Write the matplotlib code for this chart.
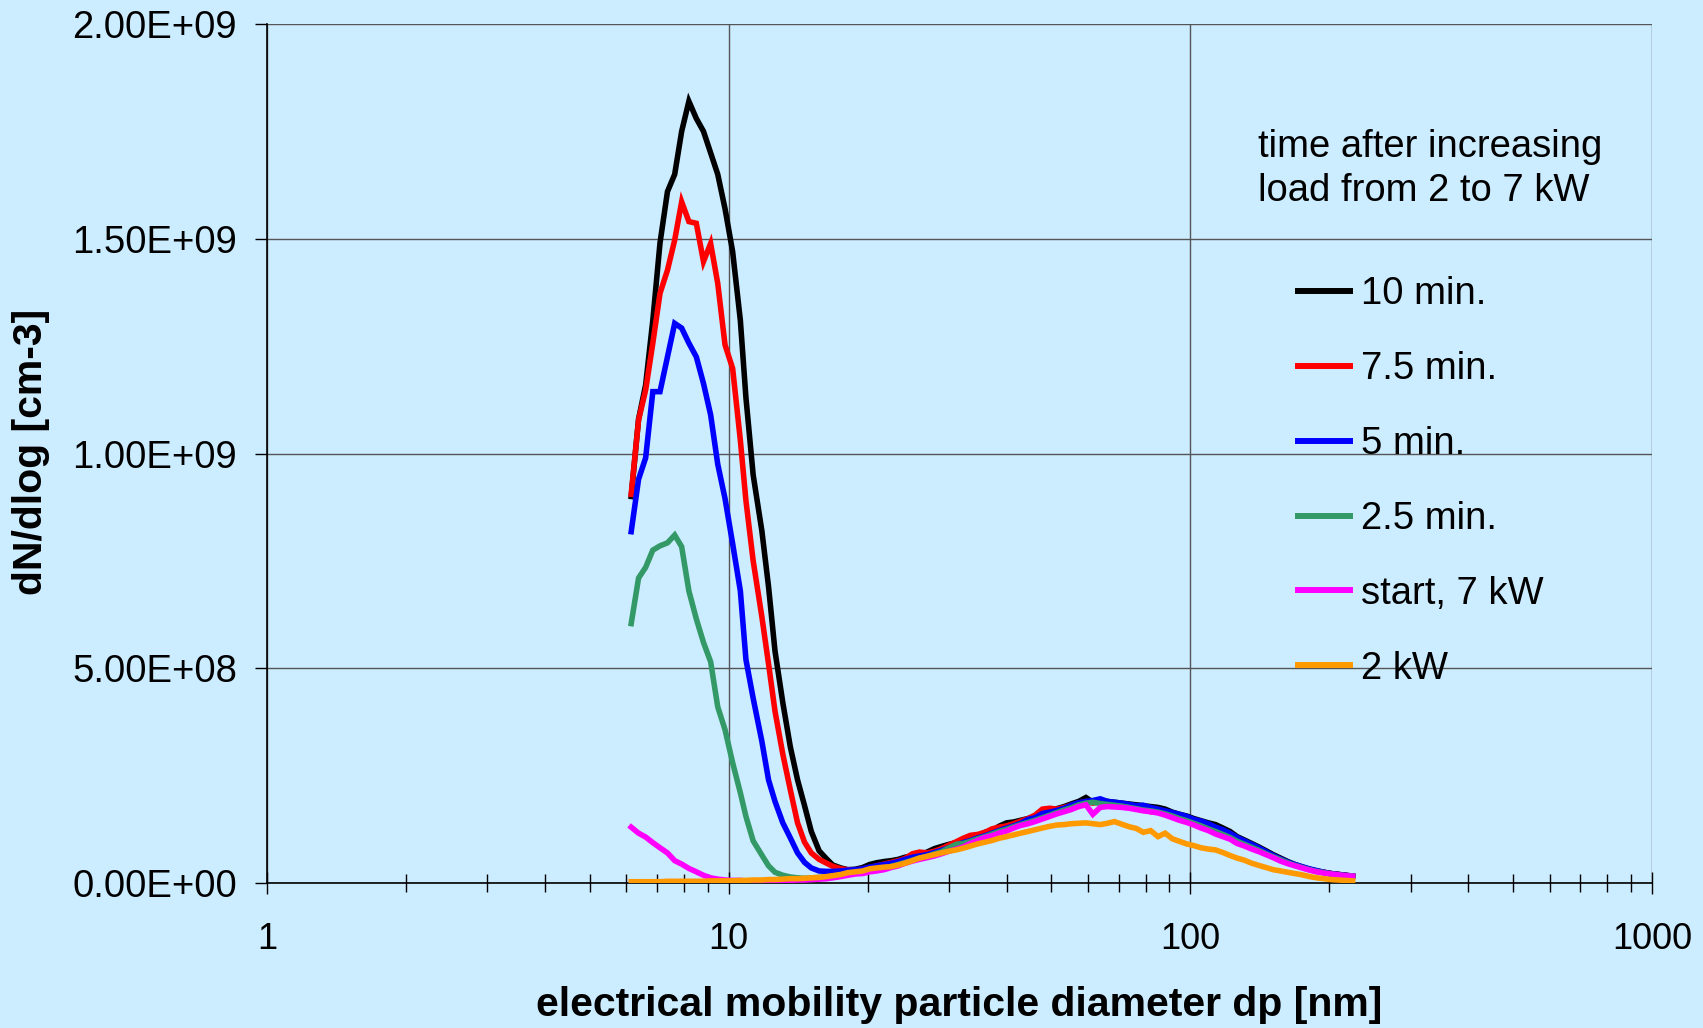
import numpy as np
import matplotlib
matplotlib.use("Agg")
import matplotlib.pyplot as plt
from matplotlib.ticker import FixedLocator, FuncFormatter, NullFormatter, LogLocator

plt.rcParams['font.family'] = ['Liberation Sans', 'DejaVu Sans']

# particle diameter channels [nm]
diam = [
    6.15, 6.38, 6.61, 6.85, 7.10, 7.37, 7.64, 7.91, 8.20, 8.51,
    8.82, 9.14, 9.47, 9.82, 10.2, 10.6, 10.9, 11.3, 11.8, 12.2,
    12.6, 13.1, 13.6, 14.1, 14.6, 15.1, 15.7, 16.3, 16.8, 17.5,
    18.1, 18.8, 19.5, 20.2, 20.9, 21.7, 22.5, 23.3, 24.1, 25.0,
    25.9, 26.9, 27.9, 28.9, 30.0, 31.1, 32.2, 33.4, 34.6, 35.9,
    37.2, 38.5, 40.0, 41.4, 42.9, 44.5, 46.1, 47.8, 49.6, 51.4,
    53.3, 55.2, 57.3, 59.4, 61.5, 63.8, 66.1, 68.5, 71.0, 73.7,
    76.4, 79.1, 82.0, 85.1, 88.2, 91.4, 94.7, 98.2, 101.8, 105.5,
    109.4, 113.4, 117.6, 121.9, 126.3, 131.0, 135.8, 140.7, 145.9, 151.2,
    156.8, 162.5, 168.5, 174.7, 181.1, 187.7, 194.6, 201.7, 209.1, 216.7,
    224.7]

# dN/dlog in units of 1e9 cm-3
min10 = [
    0.90, 1.08, 1.16, 1.31, 1.49, 1.61, 1.65, 1.75, 1.82, 1.78,
    1.75, 1.70, 1.65, 1.57, 1.47, 1.31, 1.13, 0.95, 0.82, 0.69,
    0.54, 0.42, 0.317, 0.24, 0.18, 0.12, 0.075, 0.056, 0.042, 0.035,
    0.031, 0.032, 0.036, 0.043, 0.047, 0.050, 0.052, 0.055, 0.060, 0.063,
    0.066, 0.072, 0.080, 0.085, 0.090, 0.094, 0.098, 0.104, 0.110, 0.118,
    0.122, 0.132, 0.140, 0.142, 0.146, 0.150, 0.156, 0.162, 0.168, 0.173,
    0.178, 0.184, 0.190, 0.199, 0.188, 0.192, 0.190, 0.188, 0.186, 0.184,
    0.182, 0.180, 0.178, 0.176, 0.172, 0.165, 0.160, 0.156, 0.150, 0.145,
    0.140, 0.136, 0.128, 0.120, 0.108, 0.100, 0.092, 0.084, 0.075, 0.066,
    0.058, 0.050, 0.043, 0.037, 0.032, 0.028, 0.025, 0.022, 0.020, 0.018,
    0.016]

min7_5 = [
    0.905, 1.078, 1.148, 1.257, 1.373, 1.427, 1.497, 1.586, 1.540, 1.536,
    1.447, 1.489, 1.396, 1.253, 1.198, 1.031, 0.89, 0.75, 0.62, 0.51,
    0.40, 0.30, 0.217, 0.14, 0.095, 0.070, 0.055, 0.046, 0.039, 0.033,
    0.031, 0.030, 0.033, 0.036, 0.040, 0.044, 0.048, 0.052, 0.057, 0.068,
    0.072, 0.070, 0.074, 0.080, 0.088, 0.096, 0.104, 0.111, 0.113, 0.118,
    0.126, 0.130, 0.133, 0.138, 0.144, 0.150, 0.158, 0.172, 0.174, 0.172,
    0.176, 0.181, 0.186, 0.190, 0.186, 0.190, 0.188, 0.184, 0.182, 0.179,
    0.175, 0.171, 0.166, 0.166, 0.163, 0.158, 0.152, 0.144, 0.140, 0.135,
    0.128, 0.120, 0.114, 0.107, 0.099, 0.093, 0.086, 0.078, 0.070, 0.062,
    0.055, 0.048, 0.042, 0.037, 0.032, 0.028, 0.025, 0.022, 0.020, 0.018,
    0.016]

min5 = [
    0.818, 0.94, 0.99, 1.144, 1.144, 1.225, 1.303, 1.292, 1.257, 1.225,
    1.163, 1.090, 0.975, 0.895, 0.79, 0.68, 0.52, 0.43, 0.33, 0.24,
    0.19, 0.14, 0.105, 0.07, 0.048, 0.035, 0.028, 0.027, 0.027, 0.028,
    0.030, 0.031, 0.033, 0.037, 0.040, 0.043, 0.046, 0.050, 0.055, 0.060,
    0.063, 0.066, 0.071, 0.076, 0.082, 0.088, 0.094, 0.099, 0.105, 0.110,
    0.116, 0.122, 0.128, 0.133, 0.139, 0.148, 0.152, 0.162, 0.165, 0.169,
    0.174, 0.181, 0.187, 0.190, 0.192, 0.196, 0.190, 0.188, 0.186, 0.183,
    0.180, 0.181, 0.176, 0.172, 0.168, 0.164, 0.160, 0.155, 0.148, 0.144,
    0.138, 0.130, 0.124, 0.116, 0.106, 0.098, 0.090, 0.082, 0.073, 0.064,
    0.056, 0.049, 0.043, 0.038, 0.033, 0.029, 0.025, 0.022, 0.020, 0.018,
    0.016]

min2_5 = [
    0.604, 0.71, 0.735, 0.775, 0.785, 0.792, 0.81, 0.783, 0.68, 0.615,
    0.56, 0.515, 0.41, 0.357, 0.28, 0.21, 0.155, 0.098, 0.065, 0.04,
    0.025, 0.018, 0.014, 0.012, 0.011, 0.012, 0.013, 0.014, 0.016, 0.018,
    0.020, 0.023, 0.026, 0.029, 0.032, 0.035, 0.039, 0.043, 0.048, 0.053,
    0.058, 0.062, 0.068, 0.073, 0.082, 0.090, 0.092, 0.097, 0.103, 0.108,
    0.114, 0.120, 0.125, 0.131, 0.136, 0.141, 0.146, 0.152, 0.158, 0.164,
    0.170, 0.175, 0.182, 0.186, 0.188, 0.185, 0.183, 0.181, 0.179, 0.176,
    0.173, 0.170, 0.168, 0.165, 0.161, 0.156, 0.150, 0.145, 0.139, 0.133,
    0.126, 0.120, 0.113, 0.106, 0.097, 0.090, 0.083, 0.076, 0.068, 0.061,
    0.054, 0.047, 0.041, 0.036, 0.031, 0.027, 0.024, 0.021, 0.019, 0.017,
    0.016]

start7kw = [
    0.130, 0.116, 0.107, 0.094, 0.082, 0.070, 0.052, 0.044, 0.034, 0.026,
    0.018, 0.012, 0.009, 0.007, 0.006, 0.006, 0.005, 0.005, 0.005, 0.005,
    0.005, 0.006, 0.006, 0.007, 0.007, 0.008, 0.009, 0.010, 0.012, 0.015,
    0.018, 0.021, 0.022, 0.026, 0.028, 0.031, 0.036, 0.040, 0.046, 0.051,
    0.055, 0.059, 0.063, 0.068, 0.074, 0.079, 0.084, 0.092, 0.099, 0.106,
    0.110, 0.116, 0.121, 0.128, 0.134, 0.138, 0.143, 0.149, 0.155, 0.161,
    0.166, 0.171, 0.178, 0.182, 0.160, 0.176, 0.178, 0.177, 0.176, 0.174,
    0.171, 0.168, 0.166, 0.163, 0.158, 0.152, 0.146, 0.141, 0.135, 0.128,
    0.122, 0.114, 0.108, 0.102, 0.092, 0.086, 0.079, 0.073, 0.066, 0.059,
    0.051, 0.045, 0.040, 0.035, 0.030, 0.026, 0.023, 0.021, 0.019, 0.017,
    0.016]

kw2 = [
    0.003, 0.003, 0.003, 0.003, 0.003, 0.004, 0.004, 0.004, 0.004, 0.004,
    0.004, 0.005, 0.005, 0.005, 0.005, 0.006, 0.006, 0.007, 0.007, 0.008,
    0.008, 0.009, 0.010, 0.010, 0.011, 0.012, 0.013, 0.015, 0.017, 0.020,
    0.024, 0.026, 0.028, 0.033, 0.035, 0.037, 0.038, 0.042, 0.046, 0.052,
    0.058, 0.062, 0.066, 0.070, 0.074, 0.077, 0.081, 0.086, 0.091, 0.095,
    0.099, 0.104, 0.108, 0.112, 0.116, 0.120, 0.124, 0.128, 0.132, 0.135,
    0.136, 0.138, 0.139, 0.140, 0.138, 0.136, 0.139, 0.143, 0.137, 0.131,
    0.127, 0.118, 0.122, 0.108, 0.116, 0.103, 0.097, 0.091, 0.087, 0.082,
    0.079, 0.077, 0.071, 0.064, 0.058, 0.053, 0.046, 0.041, 0.036, 0.031,
    0.028, 0.025, 0.022, 0.019, 0.015, 0.012, 0.010, 0.008, 0.007, 0.006,
    0.005]

series_labels = ["10 min.", "7.5 min.", "5 min.", "2.5 min.", "start, 7 kW", "2 kW"]
series_values = [min10, min7_5, min5, min2_5, start7kw, kw2]
series_colors = ["#000000", "#FF0000", "#0000FF", "#339966", "#FF00FF", "#FF9900"]
UNIT = 1e9

y_ticks = [0, 0.5e9, 1.0e9, 1.5e9, 2.0e9]
x_ticks = [1, 10, 100, 1000]
x_tick_labels = ["1", "10", "100", "1000"]

legend_title_lines = ["time after increasing", "load from 2 to 7 kW"]
x_label = "electrical mobility particle diameter dp [nm]"
y_label = "dN/dlog [cm-3]"

BG = "#CCECFF"
W, H = 1703, 1028
fig = plt.figure(figsize=(W / 100, H / 100), dpi=100, facecolor=BG)
ax = fig.add_axes([267 / W, 1 - 883 / H, 1385 / W, 859 / H])
ax.set_facecolor(BG)

x = np.array(diam)
for vals, lab, col in zip(series_values, series_labels, series_colors):
    ax.plot(x, np.array(vals) * UNIT, color=col, lw=4.0, label=lab,
            solid_joinstyle="miter", zorder=3)

ax.set_xscale("log")
ax.set_xlim(1, 1000)
ax.set_ylim(0, 2.0e9)

ax.xaxis.set_major_locator(FixedLocator(x_ticks))
ax.xaxis.set_major_formatter(FuncFormatter(lambda v, p: x_tick_labels[x_ticks.index(v)] if v in x_ticks else ""))
ax.xaxis.set_minor_locator(LogLocator(base=10, subs=np.arange(2, 10)))
ax.xaxis.set_minor_formatter(NullFormatter())
ax.yaxis.set_major_locator(FixedLocator(y_ticks))
ax.yaxis.set_major_formatter(FuncFormatter(lambda v, p: "%.2E" % v))

ax.grid(True, which="major", color="#555555", lw=1.0, zorder=1)
ax.set_axisbelow(True)
for s in ["top", "right"]:
    ax.spines[s].set_visible(False)
for s in ["left", "bottom"]:
    ax.spines[s].set_color("black")
    ax.spines[s].set_linewidth(1.2)

ax.tick_params(axis="y", which="major", direction="out", length=8.6, width=1.0,
               labelsize=27.5, pad=13, colors="black")
ax.tick_params(axis="x", which="major", direction="inout", length=16, width=1.0,
               labelsize=26, pad=20)
ax.tick_params(axis="x", which="minor", direction="inout", length=13.5, width=1.0)

fig.text(959 / W, 1 - 1005 / H, x_label, ha="center", va="center",
         fontsize=29.5, fontweight="bold")
fig.text(31 / W, 1 - 452 / H, y_label, ha="center", va="center",
         rotation=90, fontsize=29.5, fontweight="bold")

fig.text(1258 / W, 1 - 157 / H, legend_title_lines[0], ha="left", va="baseline",
         fontsize=27.5)
fig.text(1258 / W, 1 - 201 / H, legend_title_lines[1], ha="left", va="baseline",
         fontsize=27.5)

leg = ax.legend(loc="upper left", bbox_to_anchor=(1298 / W, 1 - 276 / H),
                bbox_transform=fig.transFigure, frameon=False, fontsize=27.5,
                handlelength=1.35, handletextpad=0.3, labelspacing=1.02,
                borderaxespad=0, borderpad=0)
for line in leg.get_lines():
    line.set_linewidth(4.3)

fig.savefig("out.png", dpi=100, facecolor=BG)
